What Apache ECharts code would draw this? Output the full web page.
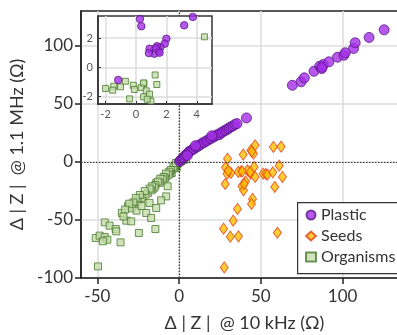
<!DOCTYPE html>
<html>
<head>
<meta charset="utf-8">
<style>
  html, body { margin: 0; padding: 0; width: 100%; height: 100%; overflow: hidden; background: #fff; }
  #chart { width: 397px; height: 335px; }
</style>
<script src="https://cdn.jsdelivr.net/npm/echarts@6/dist/echarts.min.js"></script>
</head>
<body>
<div id="chart"></div>
<script>
// main plot data [x (10 kHz), y (1.1 MHz)]
var plastic = [
  [0.3,0.5],[0.9,1.3],[1.5,2.2],[2.2,3.2],[3,4.3],[3.8,5.6],[4.6,6.6],[5.5,7.8],[6.3,9.1],[7.2,9.6],
  [8.3,10.8],[9.2,11.4],[10.3,12.6],[11.2,13.2],[12.4,14.4],[13.4,15.2],[14.4,16.4],[15.5,16.9],
  [16.6,18.1],[17.6,18.6],[18.8,19.9],[19.8,20.4],[21,21.6],[22,22.1],[23.2,23.3],[24.6,23.5],
  [25.4,25],[26.5,25.6],[27.6,26.8],[28.8,27.4],[29.8,28.6],[30.7,29.3],[31.8,30.3],[33,31],
  [34.2,32.3],[35.4,33],[41.2,37.9],[10,14],[20,22.5],[5,5.5],
  [69.3,66],[74.6,69],[76.6,72.4],[82.5,78.1],[86,82.4],[87.2,80.4],[88.2,83.9],[87.5,81.5],
  [91.6,86.2],[96.9,90.2],[100.8,91.9],[101.6,94],[106.7,97.7],[107.7,102.6],[116.2,107.2],[125.4,113.8]
];
var seeds = [
  [46.5,14.3],[57.7,12.9],[62.4,13.2],[39.2,6.3],[43.9,10],[45.5,7.2],[44.5,9],[29.6,2.8],[61.2,-3.2],
  [28.4,-4.7],[31.7,-9.5],[29.3,-10.3],[37.8,-8.1],[41.8,-7.2],[43.7,-10.1],[45.9,-4.3],[46.5,-12.9],
  [51.4,-10.1],[53,-10.3],[54,-10.9],[57.3,-9],[63.2,-12.9],[28.2,-19],[40.6,-16.7],[38.4,-21],
  [39.4,-24.5],[39.8,-19],[58.5,-21.6],[44.9,-31.9],[44.3,-36.2],[35.7,-40.5],[33.1,-50.6],
  [27.2,-57.5],[31.3,-64.4],[36.3,-64.1],[60.1,-61],[27.6,-90.9],[36.2,-8.6],[38.6,-8.1],
  [43.5,-8.6],[30.1,-7.5]
];
var organisms = [
  [4.3,2.6],[1.2,0.5],[-1.5,-5.2],[-4.5,-9.5],[-7.9,-12.4],[-10.6,-16.7],[-7,-21],[-14,-18.1],
  [-16.1,-23.3],[-19.1,-26.7],[-22.2,-29.7],[-7.9,-29.7],[-11,-33.1],[-18.1,-35.3],[-25.2,-32.5],
  [-27.3,-36.8],[-31.3,-38.3],[-20.1,-44],[-14,-39.7],[-35,-44],[-32.3,-50.6],[-29.3,-51.2],
  [-17.1,-48.3],[-45.5,-52.1],[-42.5,-54.9],[-38.8,-57.8],[-38.4,-59.8],[-24.6,-61.2],[-14.5,-57.8],
  [-51,-65.5],[-48.6,-63.5],[-45.5,-64.7],[-43.9,-67],[-46.6,-68.4],[-35.8,-69.3],[-49.6,-90],
  [-0.5,-0.8],[-1,-2],[-2,-3],[-2.5,-4.5],[-3,-5.5],[-3.5,-4],[-5,-7],[-5.5,-10],[-6,-8.5],
  [-6.5,-11],[-8,-10],[-8.5,-14],[-9.5,-13],[-10,-15],[-11.5,-14.5],[-12,-18],[-13,-17],
  [-14.5,-20],[-15,-22],[-16.5,-21],[-17,-24.5],[-18,-23],[-20.5,-28],[-21,-25],[-23,-31],
  [-24,-28.5],[-25.5,-34],[-26.5,-31],[-28,-35],[-29,-40],[-30.5,-36],[-33,-41],[-34,-47],
  [-26,-42],[-23,-38],[-2,-1],[2,1.5],[3,2],[0.5,0.5]
];
// inset (zoom near origin)
var plasticInset = [
  [0.26,3.3],[0.35,2.8],[3.74,3.44],[3.17,2.87],[2.0,1.95],[1.89,1.61],[1.61,1.38],[1.39,1.44],
  [1.5,1.1],[1.21,0.93],[0.89,1.27],[0.85,0.97],[1.3,1.3],[1.55,1.0],[-1.17,-0.86]
];
var organismsInset = [
  [4.5,2.08],[1.24,1.27],[1.26,-0.52],[1.37,-1.17],[0.52,-1.1],[-0.18,-1.22],[-0.7,-0.95],
  [-1.02,-1.33],[-1.46,-1.29],[-1.53,-1.56],[-2.0,-1.44],[-0.11,-1.51],[0.35,-1.38],[0.5,-1.06],
  [0.67,-1.6],[0.89,-1.83],[0.5,-2.01],[0.98,-2.3],[-0.42,-2.15],[0.74,-2.17]
];
var xTicks = [-50, 0, 50, 100];
var yTicks = [-100, -50, 0, 50, 100];
var insetXTicks = [-2, 0, 2, 4];
var insetYTicks = [-2, 0, 2];

var font = 'Lato, "Liberation Sans", sans-serif';
var C = {
  plastic: { color: '#A52EE8', borderColor: '#5A1A86', borderWidth: 1 },
  seeds: { color: '#FFC000', borderColor: '#E0421C', borderWidth: 1 },
  organisms: { color: '#C6DCAA', borderColor: '#4A7A30', borderWidth: 1 }
};
var split = { show: true, lineStyle: { color: '#dcdcdc', width: 1.5 } };
var zeroLine = { type: [1.5, 1.5], color: '#333', width: 1.2 };

var chart = echarts.init(document.getElementById('chart'));
var option = {
  animation: false,
  grid: [
    { left: 81, top: 11, width: 327, height: 267, outerBoundsMode: 'none', containLabel: false,
      show: true, borderColor: '#222', borderWidth: 1.5, backgroundColor: 'transparent' },
    // inset drawn on its own layer so it hides the main grid lines
    { left: 98, top: 16, width: 114, height: 88, outerBoundsMode: 'none', containLabel: false,
      show: true, borderColor: '#333', borderWidth: 1.5, backgroundColor: '#fff', zlevel: 1 }
  ],
  // legend frame runs past the right edge, like the original
  graphic: [{
    type: 'rect', left: 297, top: 202, z: 15,
    shape: { width: 130, height: 71 },
    style: { fill: '#fff', stroke: '#333', lineWidth: 1.2 }
  }],
  legend: {
    orient: 'vertical', left: 297, top: 202,
    padding: [5, 10, 4, 8], itemGap: 5, itemWidth: 10, itemHeight: 9, z: 20,
    textStyle: { fontFamily: font, fontSize: 16, color: '#333' },
    data: ['Plastic', 'Seeds', 'Organisms']
  },
  xAxis: [
    {
      gridIndex: 0, type: 'value', min: -60, max: 140,
      name: 'Δ | Z |  @ 10 kHz (Ω)', nameLocation: 'middle', nameGap: 36,
      nameTextStyle: { fontFamily: font, fontSize: 18, color: '#333' },
      axisLine: { onZero: false, lineStyle: { color: '#222', width: 1.5 } },
      axisTick: { show: true, length: 6, customValues: xTicks, lineStyle: { color: '#222', width: 1.5 } },
      axisLabel: { customValues: xTicks, fontFamily: font, fontSize: 17, color: '#333', margin: 10 },
      splitLine: split
    },
    {
      gridIndex: 1, type: 'value', min: -2.5, max: 5, zlevel: 1,
      axisLine: { onZero: false, lineStyle: { color: '#333', width: 1.5 } },
      axisTick: { inside: true, length: 3, customValues: insetXTicks, lineStyle: { color: '#333' } },
      axisLabel: { customValues: insetXTicks, fontFamily: font, fontSize: 11, color: '#555', margin: 5 },
      splitLine: split
    }
  ],
  yAxis: [
    {
      gridIndex: 0, type: 'value', min: -100, max: 130,
      name: 'Δ | Z |  @ 1.1 MHz (Ω)', nameLocation: 'middle', nameGap: 46,
      nameTextStyle: { fontFamily: font, fontSize: 18, color: '#333' },
      axisLine: { onZero: false, lineStyle: { color: '#222', width: 1.5 } },
      axisTick: { show: true, length: 6, customValues: yTicks, lineStyle: { color: '#222', width: 1.5 } },
      axisLabel: { customValues: yTicks, fontFamily: font, fontSize: 17, color: '#333', margin: 8 },
      splitLine: split
    },
    {
      gridIndex: 1, type: 'value', min: -2.5, max: 3.5, zlevel: 1,
      axisLine: { onZero: false, lineStyle: { color: '#333', width: 1.5 } },
      axisTick: { inside: true, length: 3, customValues: insetYTicks, lineStyle: { color: '#333' } },
      axisLabel: { customValues: insetYTicks, fontFamily: font, fontSize: 11, color: '#555', margin: 5 },
      splitLine: split
    }
  ],
  series: [
    {
      name: 'zero', type: 'scatter', xAxisIndex: 0, yAxisIndex: 0, data: [], z: 1,
      markLine: { silent: true, symbol: ['none', 'none'], label: { show: false }, lineStyle: zeroLine,
        data: [{ xAxis: 0 }, { yAxis: 0 }] }
    },
    {
      name: 'zeroInset', type: 'scatter', xAxisIndex: 1, yAxisIndex: 1, data: [], zlevel: 1, z: 1,
      markLine: { silent: true, symbol: ['none', 'none'], label: { show: false }, lineStyle: zeroLine,
        data: [{ xAxis: 0 }, { yAxis: 0 }] }
    },
    { name: 'Organisms', type: 'scatter', xAxisIndex: 0, yAxisIndex: 0, symbol: 'rect', symbolSize: 7, itemStyle: C.organisms, data: organisms, z: 2 },
    { name: 'Seeds', type: 'scatter', xAxisIndex: 0, yAxisIndex: 0, symbol: 'diamond', symbolSize: [8, 11], itemStyle: C.seeds, data: seeds, z: 2 },
    { name: 'Plastic', type: 'scatter', xAxisIndex: 0, yAxisIndex: 0, symbol: 'circle', symbolSize: 10, itemStyle: C.plastic, data: plastic, z: 3 },
    { name: 'Organisms', type: 'scatter', xAxisIndex: 1, yAxisIndex: 1, symbol: 'rect', symbolSize: 6, itemStyle: C.organisms, data: organismsInset, zlevel: 1, z: 2 },
    { name: 'Plastic', type: 'scatter', xAxisIndex: 1, yAxisIndex: 1, symbol: 'circle', symbolSize: 7.5, itemStyle: C.plastic, data: plasticInset, zlevel: 1, z: 3 }
  ]
};
chart.setOption(option);
</script>
</body>
</html>
